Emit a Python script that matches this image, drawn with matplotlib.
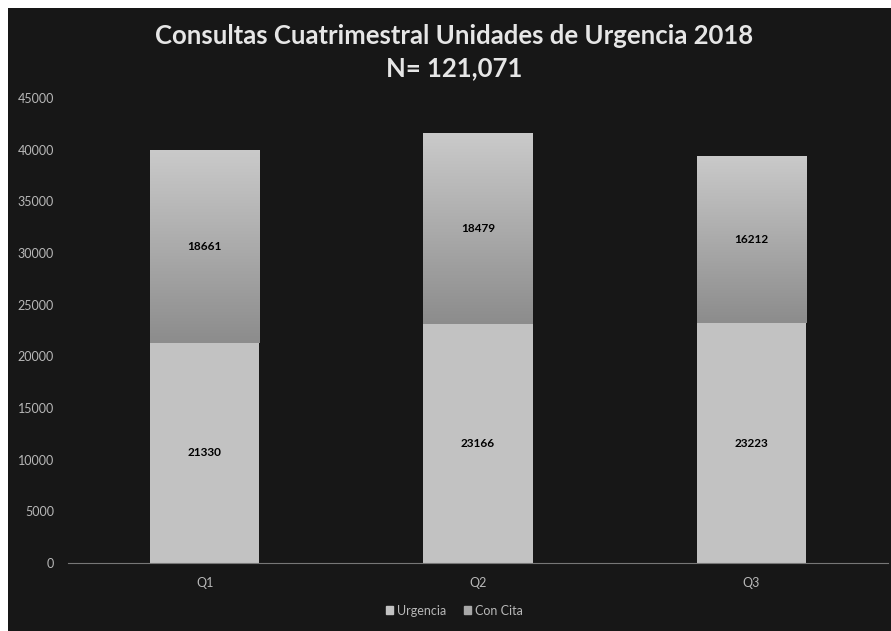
import numpy as np
import matplotlib.pyplot as plt
from matplotlib.patches import Patch
from matplotlib.colors import LinearSegmentedColormap

# data
quarters = ['Q1', 'Q2', 'Q3']
urgencia = [21330, 23166, 23223]
con_cita = [18661, 18479, 16212]

plt.rcParams['font.family'] = ['Lato', 'DejaVu Sans']

bg = '#171717'
fig = plt.figure(figsize=(8.91, 6.31), dpi=100, facecolor='white')
# dark panel, leaving a thin white strip top/left like the scan
panel = fig.add_axes([0.009, 0.0, 0.991, 0.987])
panel.set_facecolor(bg)
panel.set_xticks([])
panel.set_yticks([])
for s in panel.spines.values():
    s.set_visible(False)

ax = fig.add_axes([68 / 891, 1 - 563 / 631, (888 - 68) / 891, (563 - 98) / 631])
ax.set_facecolor('none')

x = np.arange(len(quarters))
w = 0.4
b1 = ax.bar(x, urgencia, w, color='#c2c2c2', label='Urgencia', zorder=2)
b2 = ax.bar(x, con_cita, w, bottom=urgencia, color='#a8a8a8', label='Con Cita', zorder=2)

# vertical gradient on the upper segment (light on top, darker at the bottom)
cmap = LinearSegmentedColormap.from_list('g', ['#8c8c8c', '#cacaca'])
grad = np.linspace(0, 1, 256).reshape(-1, 1)
for rect in b2:
    x0, y0 = rect.get_x(), rect.get_y()
    im = ax.imshow(grad, extent=[x0, x0 + rect.get_width(), y0, y0 + rect.get_height()],
                   cmap=cmap, origin='lower', aspect='auto', zorder=3)
    im.set_clip_path(rect)

for i in range(len(quarters)):
    ax.text(x[i], urgencia[i] / 2, str(urgencia[i]), ha='center', va='center',
            fontsize=8.5, fontweight='bold', color='black', zorder=4)
    ax.text(x[i], urgencia[i] + con_cita[i] / 2, str(con_cita[i]), ha='center', va='center',
            fontsize=8.5, fontweight='bold', color='black', zorder=4)

ax.set_xlim(-0.5, 2.5)
ax.set_ylim(0, 45000)
ax.set_yticks(range(0, 45001, 5000))
ax.set_xticks(x)
ax.set_xticklabels(quarters)
ax.tick_params(axis='both', length=0, colors='#b8b8b8', labelsize=9)
ax.tick_params(axis='y', pad=10)
ax.tick_params(axis='x', pad=10)
for s in ['top', 'right', 'left']:
    ax.spines[s].set_visible(False)
ax.spines['bottom'].set_color('#777777')
ax.spines['bottom'].set_linewidth(0.8)

fig.text(0.51, 0.943, 'Consultas Cuatrimestral Unidades de Urgencia 2018', ha='center', va='center',
         fontsize=18.5, fontweight='bold', color='#e6e6e6')
fig.text(0.51, 0.892, 'N= 121,071', ha='center', va='center',
         fontsize=18.5, fontweight='bold', color='#e6e6e6')

handles = [Patch(color='#c2c2c2', label='Urgencia'), Patch(color='#a8a8a8', label='Con Cita')]
fig.legend(handles=handles, loc='center', bbox_to_anchor=(0.51, 0.032), ncol=2, frameon=False,
           fontsize=9, labelcolor='#b8b8b8', handlelength=0.6, handleheight=0.6,
           handletextpad=0.3, columnspacing=1.4)

fig.savefig('out.png', dpi=100, facecolor='white')
